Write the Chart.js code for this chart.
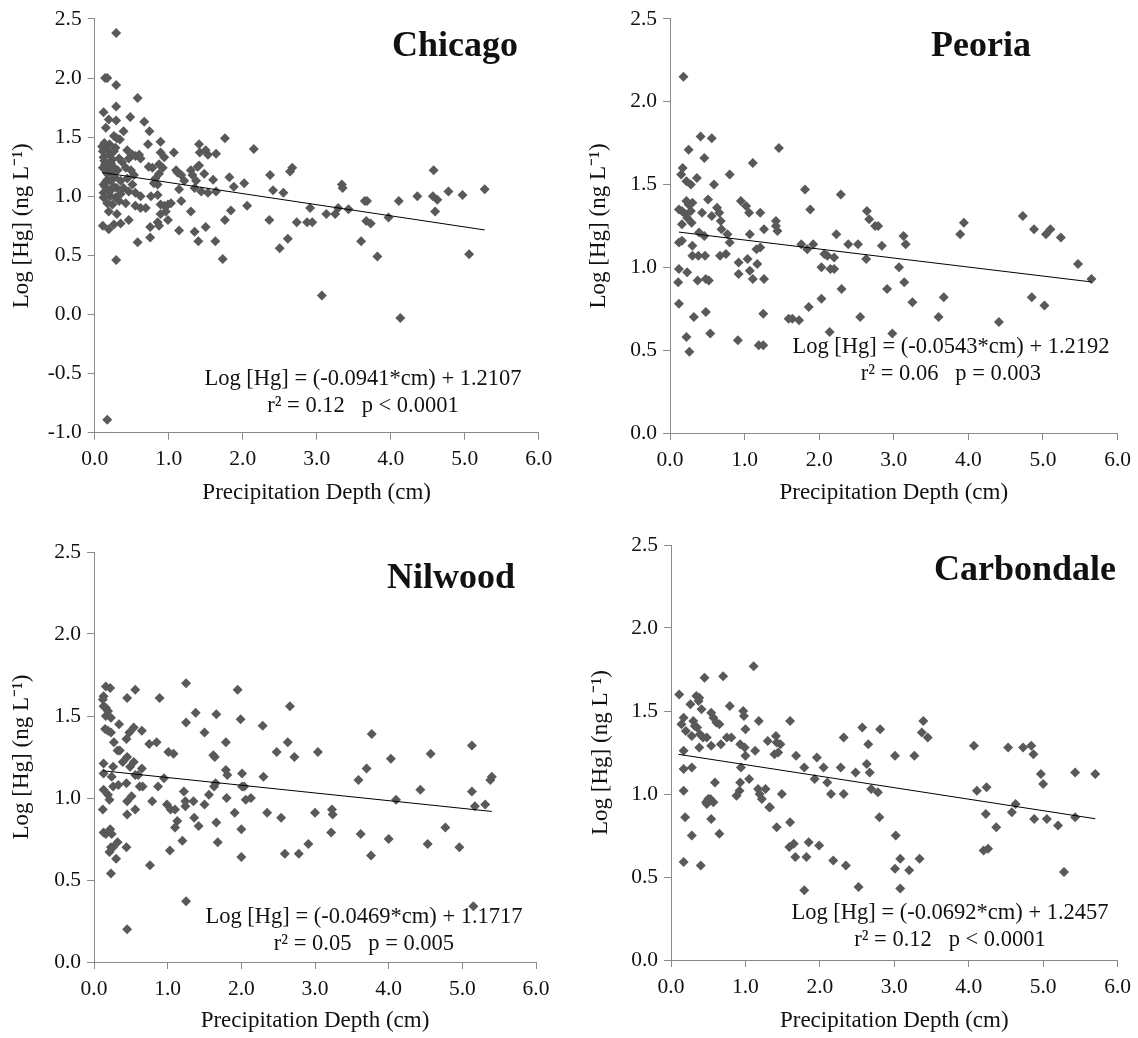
<!DOCTYPE html>
<html>
<head>
<meta charset="utf-8">
<script src="https://cdn.jsdelivr.net/npm/chart.js@4.4.1/dist/chart.umd.min.js"></script>
<style>
  html, body { margin: 0; padding: 0; background: #fff; }
  #wrap { position: relative; width: 1138px; height: 1038px; overflow: hidden; }
  .panel { position: absolute; width: 569px; height: 519px; }
  .txt { position: absolute; font-family: "Liberation Serif", "Times New Roman", serif; color: #111; white-space: nowrap; transform: translate(-50%, -50%); text-align: center; }
  .ttl { font-size: 36px; font-weight: bold; }
  .eq { font-size: 22.5px; line-height: 27px; }
</style>
</head>
<body>
<div id="wrap">
  <canvas id="c0" class="panel" width="569" height="519" style="left:0;top:0"></canvas>
  <canvas id="c1" class="panel" width="569" height="519" style="left:569px;top:0"></canvas>
  <canvas id="c2" class="panel" width="569" height="519" style="left:0;top:519px"></canvas>
  <canvas id="c3" class="panel" width="569" height="519" style="left:569px;top:519px"></canvas>

  <div class="txt ttl" style="left:455px;top:44px">Chicago</div>
  <div class="txt ttl" style="left:981px;top:44px">Peoria</div>
  <div class="txt ttl" style="left:451px;top:576px">Nilwood</div>
  <div class="txt ttl" style="left:1025px;top:568px">Carbondale</div>

  <div class="txt eq" style="left:363px;top:391px">Log [Hg] = (-0.0941*cm) + 1.2107<br>r² = 0.12 &nbsp;&nbsp;p &lt; 0.0001</div>
  <div class="txt eq" style="left:951px;top:359px">Log [Hg] = (-0.0543*cm) + 1.2192<br>r² = 0.06 &nbsp;&nbsp;p = 0.003</div>
  <div class="txt eq" style="left:364px;top:929px">Log [Hg] = (-0.0469*cm) + 1.1717<br>r² = 0.05 &nbsp;&nbsp;p = 0.005</div>
  <div class="txt eq" style="left:950px;top:925px">Log [Hg] = (-0.0692*cm) + 1.2457<br>r² = 0.12 &nbsp;&nbsp;p &lt; 0.0001</div>
</div>
<script>
// ---------------- DATA ----------------
const xTickLabels = ['0.0','1.0','2.0','3.0','4.0','5.0','6.0'];

const chicagoDepth = [0.29,0.14,0.17,0.29,0.58,0.29,0.12,0.19,0.29,0.48,0.67,0.15,0.74,0.39,0.26,0.30,0.34,0.89,0.72,1.41,1.76,2.15,
  0.10,0.11,0.12,0.14,0.11,0.17,0.12,0.19,0.12,0.21,
  0.20,0.24,0.26,0.28,0.33,0.37,0.44,0.46,0.51,0.55,0.60,0.62,0.42,0.49,0.53,0.44,
  0.17,0.21,0.26,0.30,0.35,0.39,0.46,0.51,0.55,0.62,0.12,0.17,0.19,0.24,0.33,0.42,0.55,0.62,0.69,
  0.11,0.19,0.26,0.35,0.30,0.46,0.58,0.75,0.75,0.29,
  0.73,0.78,0.82,0.87,0.89,0.92,0.94,0.87,0.80,0.85,0.76,0.85,0.89,0.94,0.99,1.03,0.96,0.89,0.85,0.87,0.99,
  1.07,1.10,1.12,1.17,1.21,1.14,1.17,1.14,1.30,1.32,1.39,1.41,1.37,1.35,1.30,1.35,1.40,1.42,1.50,1.53,1.64,1.48,1.60,1.44,1.53,1.64,1.50,1.63,1.73,1.82,1.88,2.02,1.84,1.76,2.06,
  2.37,2.41,2.36,2.55,2.50,2.61,2.64,2.67,2.73,2.87,2.91,
  2.94,3.13,3.07,3.25,3.29,3.43,3.34,3.35,3.60,3.65,3.68,3.67,3.73,3.82,3.97,4.11,4.13,4.36,4.58,4.57,4.63,4.60,4.78,4.97,5.06,5.27,
  0.17,
  0.13,0.16,0.18,0.22,0.15,0.23,0.27,0.13,0.16,0.20,0.25,0.31,0.14,0.22,0.35,0.28];
const chicagoLogHg = [2.38,2.00,2.00,1.94,1.83,1.76,1.71,1.65,1.64,1.67,1.63,1.58,1.55,1.55,1.51,1.49,1.48,1.46,1.44,1.44,1.49,1.40,
  1.42,1.38,1.33,1.27,1.24,1.19,1.10,1.05,1.03,1.00,
  1.35,1.31,1.38,1.41,1.32,1.29,1.39,1.32,1.35,1.34,1.35,1.32,1.24,1.22,1.18,1.15,
  1.14,1.13,1.08,1.07,1.13,1.07,1.04,1.10,1.03,1.00,0.99,0.94,0.87,0.93,0.96,0.94,0.92,0.90,0.90,
  0.75,0.72,0.76,0.77,0.85,0.80,0.61,0.65,0.74,0.46,
  1.25,1.24,1.15,1.27,1.37,1.24,1.33,1.19,1.11,1.10,1.00,1.01,0.93,0.92,0.93,0.94,0.87,0.85,0.78,0.75,0.80,
  1.37,1.22,1.20,1.18,1.13,1.06,0.96,0.71,1.22,1.18,1.25,1.26,1.13,1.07,0.87,0.70,0.62,1.37,1.39,1.35,1.36,1.19,1.14,1.04,1.03,1.04,0.74,0.62,0.47,1.16,1.08,1.11,0.88,0.80,0.92,
  1.18,1.05,0.80,1.03,0.56,0.64,1.21,1.24,0.78,0.78,0.90,
  0.78,0.85,0.16,0.85,0.90,0.89,1.10,1.07,0.62,0.96,0.96,0.79,0.77,0.49,0.82,0.96,-0.03,1.00,1.22,1.00,0.97,0.87,1.04,1.01,0.51,1.06,
  -0.89,
  1.30,1.26,1.22,1.28,1.12,1.20,1.16,1.45,1.40,1.44,1.25,1.22,1.08,1.05,1.02,0.99];
const chicagoFitDepth = [0.10, 5.27];
const chicagoFitLogHg = [1.201, 0.715];

const peoriaDepth = [0.18,0.41,0.56,0.25,0.46,1.46,1.11,0.17,0.15,0.80,0.22,0.28,0.36,0.59,1.81,2.29,0.51,0.12,0.16,0.22,0.25,0.30,0.21,0.28,0.23,0.29,0.43,0.56,0.63,0.66,0.68,0.69,0.16,0.12,0.16,0.39,0.46,0.77,0.80,0.30,0.30,0.38,0.47,0.67,0.75,0.95,1.02,1.06,1.21,1.07,1.26,1.42,1.42,1.44,1.88,1.76,1.84,1.92,2.07,2.11,2.20,2.23,2.39,2.52,2.63,2.64,2.67,2.75,2.79,2.84,3.13,3.16,3.07,3.14,
  0.92,0.92,1.04,1.07,1.17,1.11,1.21,1.16,1.26,0.12,0.23,0.11,0.37,0.48,0.52,0.12,0.32,0.48,0.54,0.22,0.26,0.91,1.19,1.25,1.25,1.59,1.64,1.73,1.86,2.03,2.03,2.15,2.20,2.30,2.14,2.55,2.91,2.98,
  3.25,3.67,3.60,3.89,3.94,4.41,4.73,4.88,5.04,5.10,5.24,4.85,5.02,5.47,5.65];
const peoriaLogHg = [2.15,1.79,1.78,1.71,1.66,1.72,1.63,1.60,1.56,1.56,1.52,1.50,1.54,1.50,1.47,1.44,1.41,1.35,1.34,1.40,1.38,1.39,1.32,1.34,1.30,1.27,1.33,1.31,1.36,1.33,1.28,1.23,1.26,1.15,1.16,1.21,1.19,1.20,1.15,1.13,1.07,1.07,1.07,1.07,1.08,1.40,1.37,1.33,1.33,1.20,1.23,1.28,1.25,1.22,1.35,1.14,1.11,1.14,1.08,1.07,1.06,1.20,1.14,1.14,1.05,1.34,1.29,1.25,1.25,1.13,1.19,1.14,1.00,0.91,
  1.03,0.96,1.05,0.98,1.02,0.93,1.12,1.11,0.93,0.99,0.97,0.91,0.92,0.93,0.92,0.78,0.70,0.73,0.60,0.58,0.49,0.56,0.53,0.53,0.72,0.69,0.69,0.68,0.76,0.81,1.00,0.99,0.99,0.87,0.61,0.70,0.87,0.60,
  0.79,0.82,0.70,1.20,1.27,0.67,1.31,1.23,1.20,1.23,1.18,0.82,0.77,1.02,0.93];
const peoriaFitDepth = [0.12, 5.65];
const peoriaFitLogHg = [1.213, 0.912];

const nilwoodDepth = [0.16,0.22,0.56,1.25,1.95,0.13,0.12,0.45,0.89,0.13,0.16,0.19,0.16,0.23,0.15,0.19,0.23,0.34,0.48,0.54,0.65,0.44,0.27,0.32,0.35,0.39,0.45,0.49,0.54,0.56,0.65,0.75,0.85,1.25,1.38,1.50,1.66,1.79,1.62,1.64,1.99,2.29,
  0.13,0.13,0.26,0.24,0.26,0.13,0.19,0.21,0.12,0.33,0.44,0.51,0.62,0.60,0.66,0.45,0.45,0.56,0.79,0.87,0.95,1.01,1.08,0.99,1.04,1.10,1.13,1.10,1.03,1.20,1.22,1.24,1.24,1.35,1.36,1.42,1.50,1.56,1.63,1.65,1.66,1.68,1.79,1.81,1.80,1.91,2.01,2.01,2.04,2.06,2.13,2.00,2.00,2.30,2.35,2.48,2.63,2.66,2.72,2.54,2.59,2.78,2.91,
  0.23,0.23,0.26,0.32,0.30,0.21,0.13,0.16,0.22,0.24,0.44,0.76,1.25,0.45,
  3.04,3.00,3.23,3.24,3.22,3.59,3.70,3.77,3.62,3.76,4.03,4.10,4.00,4.43,4.57,4.53,4.77,4.96,5.13,5.13,5.17,5.31,5.38,5.40,5.15];
const nilwoodLogHg = [1.68,1.67,1.66,1.70,1.66,1.62,1.60,1.61,1.61,1.56,1.55,1.53,1.50,1.49,1.42,1.41,1.40,1.45,1.40,1.43,1.41,1.36,1.34,1.29,1.29,1.22,1.25,1.19,1.22,1.14,1.18,1.33,1.34,1.46,1.52,1.40,1.51,1.34,1.26,1.25,1.48,1.44,
  1.21,1.15,1.19,1.13,1.07,1.05,1.02,0.99,0.93,1.08,1.09,1.01,1.07,1.14,1.07,0.98,0.90,0.93,0.98,1.07,1.12,1.28,1.27,0.96,0.93,0.93,0.86,0.82,0.68,0.74,1.04,0.98,0.95,0.98,0.88,0.83,0.96,1.02,1.07,1.09,0.85,0.73,1.17,1.14,1.00,0.91,1.15,1.07,1.07,0.99,1.00,0.81,0.64,1.13,0.91,1.28,1.34,1.56,1.25,0.88,0.66,0.66,0.72,
  0.54,0.70,0.70,0.73,0.63,0.67,0.79,0.78,0.81,0.78,0.70,0.59,0.37,0.20,
  1.28,0.91,0.93,0.90,0.79,1.11,1.18,1.39,0.78,0.65,1.24,0.99,0.75,1.05,1.27,0.72,0.82,0.70,1.32,1.04,0.95,0.96,1.11,1.13,0.34];
const nilwoodFitDepth = [0.12, 5.40];
const nilwoodFitLogHg = [1.166, 0.918];

const carbondaleDepth = [1.11,0.45,0.70,0.11,0.34,0.38,0.37,0.26,0.41,0.79,0.54,0.57,0.61,0.65,0.97,0.98,0.17,0.30,0.32,0.35,0.20,0.14,0.39,0.43,0.28,0.48,0.75,0.81,1.00,1.18,1.60,2.57,2.81,0.38,0.54,0.67,0.93,0.99,1.00,1.13,1.30,1.41,1.42,1.47,1.39,1.44,2.32,2.65,0.17,0.17,0.28,0.59,0.94,0.93,0.92,0.88,1.05,1.17,1.19,1.22,1.27,1.32,1.33,1.49,1.68,1.79,1.96,1.93,2.05,2.10,2.15,2.28,2.32,2.48,2.63,2.67,2.69,2.78,3.01,
  0.17,0.19,0.28,0.17,0.40,0.47,0.50,0.53,0.57,0.48,0.54,0.65,1.42,1.60,1.59,1.65,1.67,1.82,1.85,1.99,1.79,2.18,2.35,2.52,2.80,3.02,3.01,3.08,3.08,3.20,
  3.34,3.27,3.39,3.37,3.45,4.07,4.11,4.24,4.23,4.20,4.26,4.37,4.53,4.73,4.84,4.87,4.58,4.63,4.88,4.97,5.00,5.05,5.20,5.28,5.43,5.43,5.70];
const carbondaleLogHg = [1.77,1.70,1.71,1.60,1.59,1.58,1.56,1.54,1.51,1.53,1.49,1.46,1.43,1.42,1.50,1.47,1.46,1.44,1.41,1.40,1.38,1.42,1.36,1.34,1.35,1.34,1.34,1.34,1.39,1.44,1.44,1.40,1.39,1.28,1.29,1.30,1.30,1.28,1.23,1.26,1.32,1.35,1.31,1.30,1.24,1.25,1.34,1.30,1.26,1.15,1.16,1.07,1.16,1.07,1.02,0.99,1.09,1.03,1.00,0.97,1.03,0.92,0.92,1.00,1.23,1.16,1.22,1.09,1.16,1.07,1.00,1.16,1.00,1.13,1.18,1.13,1.03,1.01,1.23,
  1.02,0.86,0.75,0.59,0.57,0.95,0.97,0.97,0.95,0.94,0.85,0.76,0.80,0.83,0.68,0.70,0.62,0.62,0.71,0.69,0.42,0.60,0.57,0.44,0.86,0.75,0.55,0.61,0.43,0.54,
  0.61,1.23,1.44,1.37,1.34,1.29,1.02,1.04,0.88,0.66,0.67,0.80,1.28,1.28,1.29,1.24,0.89,0.94,0.85,1.12,1.06,0.85,0.81,0.53,1.13,0.86,1.12];
const carbondaleFitDepth = [0.10, 5.70];
const carbondaleFitLogHg = [1.239, 0.851];

// ---------------- CHARTS ----------------
const FONT = '"Liberation Serif", "Times New Roman", serif';
const AXIS_GRAY = '#8a8a8a';
const POINT_COLOR = '#595959';

function pts(xs, ys) { return xs.map((x, i) => ({ x: x, y: ys[i] })); }

function makePanel(id, depth, hg, fitX, fitY, yMin, box) {
  const ctx = document.getElementById(id);
  new Chart(ctx, {
    type: 'scatter',
    data: {
      datasets: [
        { data: pts(depth, hg), pointStyle: 'rectRot', pointRadius: 5, pointHoverRadius: 5,
          backgroundColor: POINT_COLOR, borderColor: POINT_COLOR, borderWidth: 0, order: 2 },
        { type: 'line', data: pts(fitX, fitY), showLine: true, pointRadius: 0, borderColor: '#000',
          borderWidth: 1, fill: false, order: 1 }
      ]
    },
    options: {
      responsive: false, animation: false, devicePixelRatio: 1,
      layout: { padding: { left: 0, top: box.top, right: box.right, bottom: 0 } },
      plugins: { legend: { display: false }, tooltip: { enabled: false } },
      scales: {
        x: {
          type: 'linear', min: 0, max: 6,
          afterFit: s => { s.height = box.xh; },
          border: { display: true, color: AXIS_GRAY, width: 1 },
          grid: { drawOnChartArea: false, drawTicks: true, tickLength: 7, color: AXIS_GRAY },
          ticks: { stepSize: 1, padding: 7, color: '#111', font: { family: FONT, size: 21.5 },
                   callback: v => xTickLabels[Math.round(v)] },
          title: { display: true, text: 'Precipitation Depth (cm)', color: '#111',
                   font: { family: FONT, size: 23 }, padding: { top: 0, bottom: box.xtPad } }
        },
        y: {
          type: 'linear', min: yMin, max: 2.5,
          afterFit: s => { s.width = box.left; },
          border: { display: true, color: AXIS_GRAY, width: 1 },
          grid: { drawOnChartArea: false, drawTicks: true, tickLength: 7, color: AXIS_GRAY },
          ticks: { stepSize: 0.5, padding: 6, color: '#111', font: { family: FONT, size: 21.5 },
                   callback: v => (Math.round(v * 10) / 10).toFixed(1) },
          title: { display: true, text: 'Log [Hg] (ng L⁻¹)', color: '#111',
                   font: { family: FONT, size: 23 }, padding: { top: box.ytPad, bottom: 0 } }
        }
      }
    }
  });
}

makePanel('c0', chicagoDepth, chicagoLogHg, chicagoFitDepth, chicagoFitLogHg, -1,
  { left: 94.7, right: 30.3, top: 17.3, xh: 86.3, xtPad: 12, ytPad: 8 });
makePanel('c1', peoriaDepth, peoriaLogHg, peoriaFitDepth, peoriaFitLogHg, 0,
  { left: 101, right: 19, top: 17, xh: 86, xtPad: 12, ytPad: 16 });
makePanel('c2', nilwoodDepth, nilwoodLogHg, nilwoodFitDepth, nilwoodFitLogHg, 0,
  { left: 94, right: 33, top: 33, xh: 76, xtPad: 3, ytPad: 8 });
makePanel('c3', carbondaleDepth, carbondaleLogHg, carbondaleFitDepth, carbondaleFitLogHg, 0,
  { left: 102, right: 19, top: 26, xh: 78, xtPad: 3, ytPad: 18 });
</script>
</body>
</html>
